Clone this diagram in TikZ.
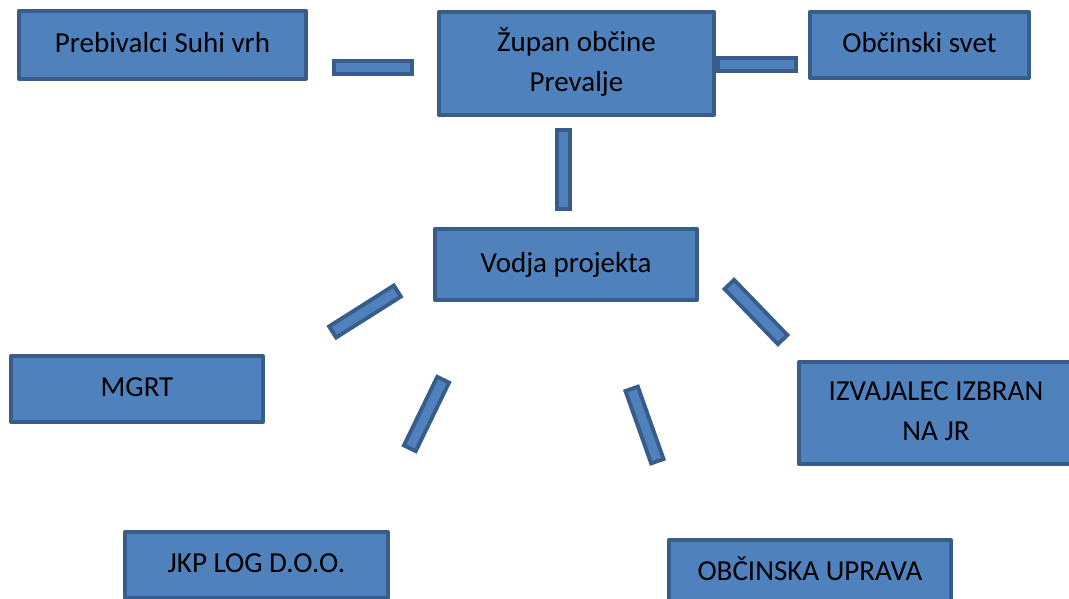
\documentclass[tikz,border=0pt]{standalone}
\usepackage{fontspec}
\setmainfont{Carlito}
\definecolor{boxfill}{HTML}{4F81BD}
\definecolor{boxline}{HTML}{385D8A}
\begin{document}
\begin{tikzpicture}[x=1pt, y=-1pt, font=\fontsize{29}{40}\selectfont, line join=round,
	unit/.style={draw=boxline, fill=boxfill, line width=4pt, inner sep=0pt, align=center, text height=21pt, text depth=6pt},
	twoline/.style={text height=61pt},
	bar/.style={draw=boxline, line width=17pt, postaction={draw=boxfill, line width=9pt, shorten <=4pt, shorten >=4pt}}]
	\useasboundingbox (0,0) rectangle (1069,598);
	\clip (0,0) rectangle (1069,598);
	% top row
	\node[unit, minimum width=287pt, minimum height=68pt] (preb) at (162.5,44.5) {Prebivalci Suhi vrh};
	\node[unit, twoline, minimum width=275pt, minimum height=103pt] (zupan) at (576.5,63.5) {Župan občine\\Prevalje};
	\node[unit, minimum width=219pt, minimum height=66pt] (svet) at (919.5,45) {Občinski svet};
	% middle
	\node[unit, minimum width=262pt, minimum height=71pt] (vodja) at (566,264.5) {Vodja projekta};
	\node[unit, minimum width=252pt, minimum height=66pt] (mgrt) at (137,389) {MGRT};
	\node[unit, twoline, minimum width=274pt, minimum height=102pt] (izvajalec) at (936,413) {IZVAJALEC IZBRAN\\NA JR};
	% bottom row
	\node[unit, minimum width=263pt, minimum height=66pt] (jkp) at (256.5,565) {JKP LOG D.O.O.};
	\node[unit, minimum width=282pt, minimum height=66pt] (uprava) at (810,573) {OBČINSKA UPRAVA};
	% bar ends
	\coordinate (b1a) at (332,67.5); \coordinate (b1b) at (414,67.5);
	\coordinate (b2a) at (716,64); \coordinate (b2b) at (798,64);
	\coordinate (b3a) at (563,128); \coordinate (b3b) at (563,211);
	\coordinate (b4a) at (331,333); \coordinate (b4b) at (399,290);
	\coordinate (b5a) at (728,283); \coordinate (b5b) at (784,341);
	\coordinate (b6a) at (444,378); \coordinate (b6b) at (409,450);
	\coordinate (b7a) at (631,387); \coordinate (b7b) at (658,463);
	\foreach \i in {1,...,7}
		\draw[bar] (b\i a) -- (b\i b);
\end{tikzpicture}
\end{document}
